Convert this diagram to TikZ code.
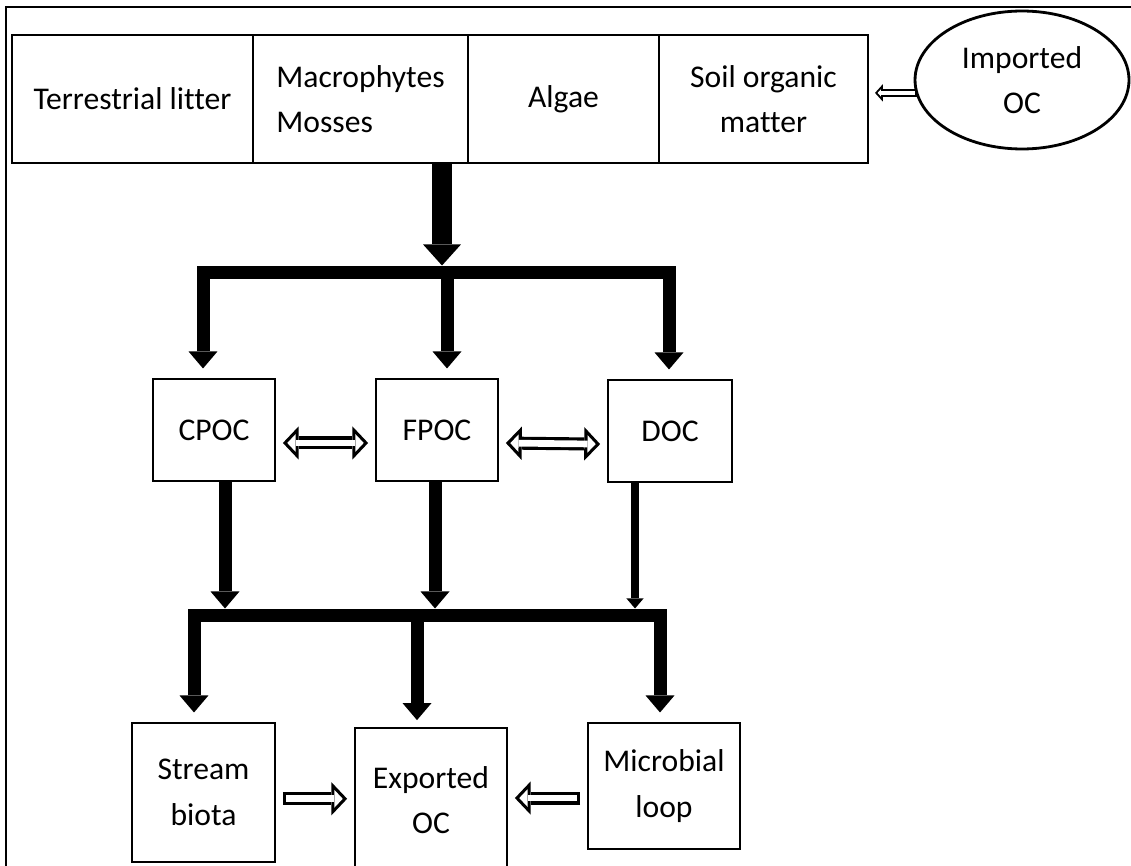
\documentclass[tikz,border=0pt]{standalone}
\usepackage{fontspec}
\setmainfont{Carlito}[Ligatures=NoCommon]
\usetikzlibrary{arrows.meta,shapes.geometric}

\begin{document}
\begin{tikzpicture}[
        x=0.02cm, y=-0.02cm,
        box/.style={draw, line width=1.6pt, inner sep=0pt, outer sep=0pt, align=center,
            font=\fontsize{18}{26}\selectfont},
        mtip/.tip={Triangle[width=16.5pt, length=9.7pt, line width=0pt]},
        btip/.tip={Triangle[width=21.6pt, length=12pt, line width=0pt]},
        stip/.tip={Triangle[width=9.7pt, length=5.7pt, line width=0pt]},
        otip/.tip={Triangle[width=19pt, length=9pt, line width=0pt]},
        itip/.tip={Triangle[width=10pt, length=4.7pt, line width=0pt]},
        ar/.style={line width=7.4pt, -{mtip}},
        ar2/.style={line width=7.4pt, {mtip}-{mtip}, shorten <=6pt, shorten >=6pt},
        bigar/.style={line width=11.4pt, -{btip}, shorten >=3.7pt},
        thinar/.style={line width=4.5pt, -{stip}, shorten >=3.7pt},
        hol/.style={line width=7.4pt, -{otip}, shorten <=4.5pt, shorten >=4.5pt,
            postaction={draw=white, line width=3.8pt, -{itip}, shorten <=6.3pt, shorten >=7pt}},
        dhol/.style={line width=7.4pt, {otip}-{otip}, shorten <=4.5pt, shorten >=4.5pt,
            postaction={draw=white, line width=3.8pt, {itip}-{itip}, shorten <=7pt, shorten >=7pt}},
        hols/.style={line width=4.5pt, -{Triangle[width=10pt, length=4.5pt, line width=0pt]}, shorten >=4pt,
            postaction={draw=white, line width=2.3pt, -{Triangle[width=4.2pt, length=1.9pt, line width=0pt]},
            shorten <=1.1pt, shorten >=5.5pt}},
    ]
    \useasboundingbox (0,0) rectangle (1131,865);
    \draw[line width=1.6pt] (6,866) -- (6,7) -- (1132,7);

    \node[box, minimum width=4.82cm, minimum height=2.56cm] (litter) at (132.5,99) {Terrestrial litter};
    \node[box, minimum width=4.30cm, minimum height=2.56cm, align=left] (macro) at (360.5,99) {Macrophytes\\Mosses};
    \node[box, minimum width=3.82cm, minimum height=2.56cm] (algae) at (563.5,99) {Algae};
    \node[box, minimum width=4.18cm, minimum height=2.56cm] (soil) at (763.5,99) {Soil organic\\matter};
    \node[box, ellipse, minimum width=4.28cm, minimum height=2.76cm] (imp) at (1022,80) {Imported\\OC};

    \node[box, minimum width=2.44cm, minimum height=2.04cm] (cpoc) at (214,430) {CPOC};
    \node[box, minimum width=2.44cm, minimum height=2.04cm] (fpoc) at (437,430) {FPOC};
    \node[box, minimum width=2.48cm, minimum height=2.04cm] (doc) at (670,431) {DOC};

    \node[box, minimum width=2.86cm, minimum height=2.78cm] (stream) at (203.5,792.5) {Stream\\biota};
    \node[box, minimum width=3.04cm, minimum height=2.88cm] (export) at (431,800) {Exported\\OC};
    \node[box, minimum width=3.04cm, minimum height=2.52cm] (micro) at (664,786) {Microbial\\loop};

    \coordinate (t0) at (442,272);
    \coordinate (t1) at (203,272);
    \coordinate (t2) at (447,272);
    \coordinate (t3) at (669,272);
    \coordinate (u1) at (225,615);
    \coordinate (u2) at (435,615);
    \coordinate (u3) at (635,615);
    \coordinate (l1) at (194,615);
    \coordinate (l2) at (417,615);
    \coordinate (l3) at (660,615);

    \draw[hols] (imp.187) -- (imp.187 -| soil.east);
    \draw[bigar] (t0 |- macro.south) -- (t0);
    \draw[ar2] (t1 |- cpoc.north) |- (t3) -- (t3 |- doc.north);
    \draw[ar, shorten >=6pt] (t2) -- (t2 |- fpoc.north);

    \draw[dhol] (cpoc.-12) -- (fpoc.192);
    \draw[dhol] (fpoc.-12) -- (doc.192);

    \draw[ar, shorten >=3.7pt] (u1 |- cpoc.south) -- (u1);
    \draw[ar, shorten >=3.7pt] (u2 |- fpoc.south) -- (u2);
    \draw[thinar] (u3 |- doc.south) -- (u3);
    \draw[ar2] (l1 |- stream.north) |- (l3) -- (l3 |- micro.north);
    \draw[ar, shorten >=4.5pt] (l2) -- (l2 |- export.north);

    \draw[hol] (stream.-5) -- (stream.-5 -| export.west);
    \draw[hol] (micro.189) -- (micro.189 -| export.east);
\end{tikzpicture}
\end{document}
